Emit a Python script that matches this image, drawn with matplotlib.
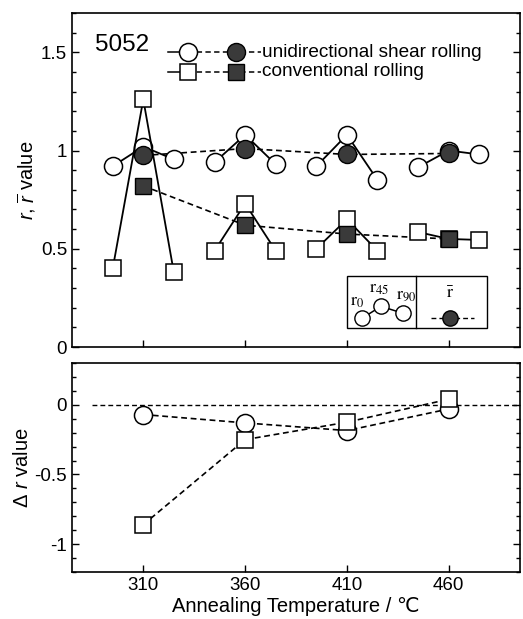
"""r-value vs annealing temperature for 5052 (USR vs conventional rolling)."""

import matplotlib
matplotlib.use("Agg")
import matplotlib.pyplot as plt
from matplotlib.patches import Rectangle
from matplotlib.ticker import MultipleLocator

plt.rcParams.update({
    "font.family": ["Liberation Sans", "DejaVu Sans"],
    "font.size": 13.5,
    "mathtext.fontset": "custom",
    "mathtext.rm": "Liberation Sans",
    "mathtext.it": "Liberation Sans:italic",
    "axes.linewidth": 1.2,
})

temps = [310, 360, 410, 460]
offsets = [-15, 0, 15]  # r0, r45, r90 drawn side by side

usr_r0 = [0.92, 0.94, 0.92, 0.915]
usr_r45 = [1.02, 1.08, 1.08, 1.00]
usr_r90 = [0.955, 0.93, 0.85, 0.98]
usr_rbar = [0.975, 1.01, 0.98, 0.985]

cr_r0 = [0.40, 0.49, 0.50, 0.585]
cr_r45 = [1.26, 0.73, 0.65, 0.55]
cr_r90 = [0.38, 0.49, 0.49, 0.545]
cr_rbar = [0.82, 0.62, 0.575, 0.55]

usr_dr = [-0.07, -0.13, -0.185, -0.03]
cr_dr = [-0.86, -0.25, -0.125, 0.04]

FILL = "#3a3a3a"
DASH = (0, (3.5, 2.2))
MS_C, MS_S = 13, 12


def style_axes(ax):
    ax.tick_params(which="both", direction="in", right=True, top=False)
    ax.tick_params(which="major", length=5, width=1, labelsize=13.5)
    ax.tick_params(which="minor", length=3, width=1)
    ax.set_xticks(temps)
    ax.set_xlim(275, 495)


fig = plt.figure(figsize=(5.23, 6.19), dpi=100)
ax1 = fig.add_axes([0.1377, 0.4394, 0.8566, 0.5396])
ax2 = fig.add_axes([0.1377, 0.0759, 0.8566, 0.3377])

# ---- top panel: r values ----
for r0, r45, r90, rbar, mk, ms in [
    (usr_r0, usr_r45, usr_r90, usr_rbar, "o", MS_C),
    (cr_r0, cr_r45, cr_r90, cr_rbar, "s", MS_S),
]:
    ax1.plot(temps, rbar, color="black", lw=1.2, ls=DASH, zorder=2)
    for i, t in enumerate(temps):
        xs = [t + o for o in offsets]
        ys = [r0[i], r45[i], r90[i]]
        ax1.plot(xs, ys, color="black", lw=1.3, zorder=2,
                 marker=mk, ms=ms, mfc="white", mec="black", mew=1.1)
    ax1.plot(temps, rbar, ls="none", marker=mk, ms=ms, mfc=FILL,
             mec="black", mew=1.0, zorder=4)

style_axes(ax1)
ax1.set_ylim(0, 1.7)
ax1.set_yticks([0, 0.5, 1, 1.5])
ax1.set_yticklabels(["0", "0.5", "1", "1.5"])
ax1.yaxis.set_minor_locator(MultipleLocator(0.1))
ax1.set_xticklabels([])
ax1.set_ylabel(r"$r$, $\overline{r}$ value", fontsize=14.5, labelpad=2)

ax1.text(286.5, 1.535, "5052", fontsize=17.5, va="center", ha="left")

# legend drawn by hand
for y, mk, ms, label in [(1.5, "o", MS_C, "unidirectional shear rolling"),
                         (1.40, "s", MS_S, "conventional rolling")]:
    ax1.plot([322, 332], [y, y], color="black", lw=1.1, zorder=2)
    ax1.plot([332, 368], [y, y], color="black", lw=1.1, ls=DASH, zorder=2)
    ax1.plot([332], [y], marker=mk, ms=ms, mfc="white", mec="black", mew=1.1)
    ax1.plot([355.6], [y], marker=mk, ms=ms, mfc=FILL, mec="black", mew=1.0)
    ax1.text(368.5, y, label, fontsize=13.7, va="center", ha="left")

# inset key
ax1.add_patch(Rectangle((410, 0.096), 69, 0.264, fill=False, lw=1.0,
                        ec="black", zorder=3))
ax1.plot([444, 444], [0.096, 0.36], color="black", lw=1.0, zorder=3)
ax1.plot([417.4, 426.7, 437.5], [0.146, 0.207, 0.172], color="black",
         lw=1.1, marker="o", ms=11, mfc="white", mec="black", mew=1.0,
         zorder=4)
for x, y, s in [(414.9, 0.232, r"$\mathrm{r}_{0}$"),
                (425.7, 0.300, r"$\mathrm{r}_{45}$"),
                (439.0, 0.265, r"$\mathrm{r}_{90}$")]:
    ax1.text(x, y, s, fontsize=13, ha="center", va="center",
             math_fontfamily="stix")
ax1.plot([451.2, 472.3], [0.15, 0.15], color="black", lw=1.0, ls=DASH,
         zorder=3)
ax1.plot([460.5], [0.15], marker="o", ms=11, mfc=FILL, mec="black",
         mew=1.0, zorder=4)
ax1.text(460.5, 0.27, r"$\bar{\mathrm{r}}$", fontsize=13, ha="center",
         va="center", math_fontfamily="stix")

# ---- bottom panel: delta r ----
ax2.plot([285, 495], [0, 0], color="black", lw=1.0, ls=DASH, zorder=1)
ax2.plot(temps, usr_dr, color="black", lw=1.2, ls=DASH, marker="o",
         ms=MS_C, mfc="white", mec="black", mew=1.1, zorder=3)
ax2.plot(temps, cr_dr, color="black", lw=1.2, ls=DASH, marker="s",
         ms=MS_S, mfc="white", mec="black", mew=1.1, zorder=3)

style_axes(ax2)
ax2.set_ylim(-1.2, 0.3)
ax2.set_yticks([-1, -0.5, 0])
ax2.set_yticklabels(["-1", "-0.5", "0"])
ax2.yaxis.set_minor_locator(MultipleLocator(0.1))
ax2.set_ylabel(r"Δ $r$ value", fontsize=14.5, labelpad=2)
ax2.set_xlabel("Annealing Temperature / ℃", fontsize=14.5, labelpad=2)

fig.savefig("out.png", dpi=100)
